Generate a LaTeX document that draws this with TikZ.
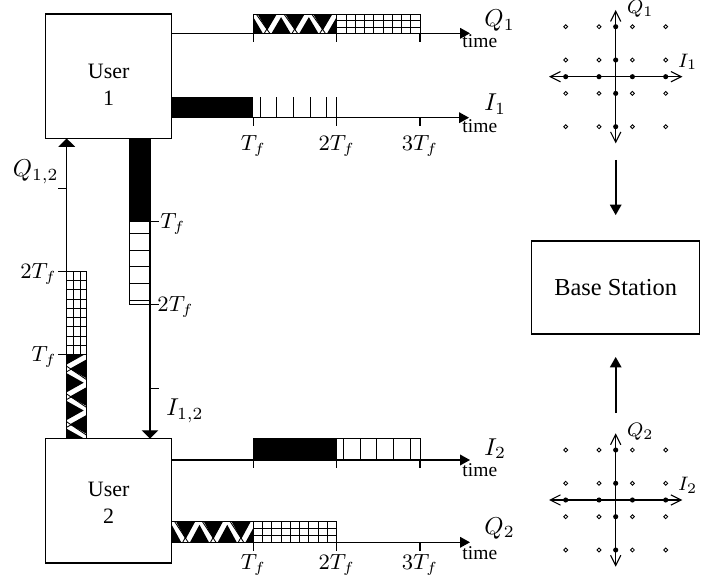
\documentclass[tikz,border=0pt]{standalone}
\usepackage{fontspec}
\setmainfont{Liberation Serif}
\usetikzlibrary{arrows.meta}
\tikzset{
  userbox/.style={draw, line width=0.6pt, minimum width=51.66pt, minimum height=51pt, inner sep=0pt, outer sep=0pt, font=\small},
  bsbox/.style={draw, line width=0.6pt, minimum width=68.9pt, minimum height=38.1pt, inner sep=0pt, outer sep=0pt},
  haxis/.style={line width=0.55pt, -{Triangle[length=4.1pt,width=4.4pt]}},
  vaxis/.style={line width=0.55pt, -{Triangle[length=3.4pt,width=6.8pt]}},
  tickmark/.style={line width=0.55pt},
  thinl/.style={line width=0.35pt},
  tlab/.style={font=\small, inner sep=1pt},
  timelab/.style={font=\footnotesize, anchor=base west, inner sep=0pt},
  axlab/.style={anchor=base west, inner sep=0pt},
  cax/.style={line width=0.45pt, {Straight Barb[length=4.2pt,width=4.2pt]}-{Straight Barb[length=4.2pt,width=4.2pt]}},
  clab/.style={font=\footnotesize, anchor=west, inner sep=0pt},
  bsarrow/.style={line width=0.9pt, -{Triangle[length=4.3pt,width=4.6pt]}},
}
% grid pattern, horizontal block: x0 x1 ytop ybot
\newcommand{\gridH}[4]{%
  \draw[thinl] (#1,#3) rectangle (#2,#4);
  \foreach \k in {1,...,8} {\draw[thinl] ({#1+\k*(#2-#1)/9},#3) -- ({#1+\k*(#2-#1)/9},#4);}
  \foreach \k in {1,2} {\draw[thinl] (#1,{#3+\k*(#4-#3)/3}) -- (#2,{#3+\k*(#4-#3)/3});}
}
% grid pattern, vertical block: x0 x1 ytop ybot
\newcommand{\gridV}[4]{%
  \draw[thinl] (#1,#3) rectangle (#2,#4);
  \foreach \k in {1,...,8} {\draw[thinl] (#1,{#3+\k*(#4-#3)/9}) -- (#2,{#3+\k*(#4-#3)/9});}
  \foreach \k in {1,2} {\draw[thinl] ({#1+\k*(#2-#1)/3},#3) -- ({#1+\k*(#2-#1)/3},#4);}
}
% zigzag pattern, horizontal block (axis at bottom): x0 x1 ytop ybot
\newcommand{\diagH}[4]{%
  \begin{scope}
    \clip (#1,#3) rectangle (#2,#4);
    \foreach \k in {0,...,3} {
      \pgfmathsetmacro{\a}{#1+\k*27.78}
      \fill ({\a-9.5},#4) -- ({\a+9.5},#4) -- (\a,{#4-0.85*(#4-#3)}) -- cycle;
      \fill ({\a+13.89-9.5},#3) -- ({\a+13.89+9.5},#3) -- ({\a+13.89},{#3+0.85*(#4-#3)}) -- cycle;
      \draw[thinl] ({\a+11},#4) -- ({\a+22.5},#3);
      \draw[thinl] ({\a+3},#3) -- ({\a+16.5},#4);
    }
  \end{scope}
  \draw[thinl] (#1,#3) rectangle (#2,#4);
}
% zigzag pattern, vertical block (axis at left): x0 x1 ytop ybot
\newcommand{\diagV}[4]{%
  \begin{scope}
    \clip (#1,#3) rectangle (#2,#4);
    \foreach \k in {0,...,3} {
      \pgfmathsetmacro{\a}{#4-\k*27.78}
      \fill (#1,{\a-9.5}) -- (#1,{\a+9.5}) -- ({#1+0.85*(#2-#1)},\a) -- cycle;
      \fill (#2,{\a-13.89-9.5}) -- (#2,{\a-13.89+9.5}) -- ({#2-0.85*(#2-#1)},{\a-13.89}) -- cycle;
      \draw[thinl] (#1,{\a-11}) -- (#2,{\a-22.5});
      \draw[thinl] (#2,{\a-3}) -- (#1,{\a-16.5});
    }
  \end{scope}
  \draw[thinl] (#1,#3) rectangle (#2,#4);
}
\begin{document}
\begin{tikzpicture}[x=0.41pt,y=-0.41pt]
\useasboundingbox (0,0) rectangle (721,582);

% ---------- boxes ----------
\node[userbox] (u1) at (108.7,76.3) {\raisebox{-4.1pt}[\height][\depth]{\begin{tabular}{@{}c@{}}User\\1\end{tabular}}};
\node[userbox] (u2) at (108.7,500.8) {\raisebox{-1.6pt}[\height][\depth]{\begin{tabular}{@{}c@{}}User\\2\end{tabular}}};
\node[bsbox] (bs) at (615.7,287.5) {Base Station};

% ---------- blocks ----------
% Q1
\diagH{253.3}{336.7}{14.3}{33.3}
\gridH{336.7}{420}{14.3}{33.3}
% I1
\fill (171.7,97.3) rectangle (253.3,117.7);
\foreach \k in {0,...,4} {\draw[thinl] ({260+\k*16.67},97.3) -- ({260+\k*16.67},117.7);}
\draw[thinl] (336.7,97.3) -- (336.7,117.7);
% I2
\fill (253.3,438.3) rectangle (336.7,460);
\draw[thinl] (336.7,460) -- (336.7,438.3) -- (420,438.3) -- (420,460);
\foreach \k in {0,...,4} {\draw[thinl] ({343.4+\k*16.67},438.3) -- ({343.4+\k*16.67},460);}
% Q2
\diagH{171.7}{253.3}{521.7}{542.3}
\gridH{253.3}{336.7}{521.7}{542.3}
% Q12
\diagV{66.7}{86.7}{354.7}{438.3}
\gridV{66.7}{86.7}{271.3}{354.7}
% I12
\fill (129,138.3) rectangle (150,221.7);
\draw[thinl] (150,221.7) -- (129,221.7) -- (129,304.3) -- (150,304.3);
\foreach \k in {0,...,4} {\draw[thinl] (129,{233.3+\k*16.67}) -- (150,{233.3+\k*16.67});}

% ---------- time axes ----------
\coordinate (q1e) at (470,33.3);
\coordinate (i1e) at (469,117.7);
\coordinate (i2e) at (470,460);
\coordinate (q2e) at (470,542.3);
\draw[haxis] (u1.east |- q1e) -- (q1e);
\draw[haxis] (u1.east |- i1e) -- (i1e);
\draw[haxis] (u2.east |- i2e) -- (i2e);
\draw[haxis] (u2.east |- q2e) -- (q2e);
\foreach \x in {253.3,336.7,420} {
  \draw[tickmark] (\x,33.3) -- (\x,42);
  \draw[tickmark] (\x,117.7) -- (\x,126);
  \draw[tickmark] (\x,460) -- (\x,468);
  \draw[tickmark] (\x,542.3) -- (\x,550.5);
}
% ---------- user-to-user axes ----------
\coordinate (q12x) at (66.7,300);
\coordinate (i12x) at (150,300);
\draw[vaxis] (u2.north -| q12x) -- (u1.south -| q12x);
\draw[vaxis] (u1.south -| i12x) -- (u2.north -| i12x);
\foreach \y in {188.3,271.3,354.7} {\draw[tickmark] (58,\y) -- (66.7,\y);}
\foreach \y in {221.7,304.3,388.3} {\draw[tickmark] (150,\y) -- (158.5,\y);}

% ---------- labels ----------
\node[axlab] (lq1) at (484,27) {$Q_1$};
\node[axlab] (li1) at (484,111) {$I_1$};
\node[axlab] (li2) at (484,455) {$I_2$};
\node[axlab] (lq2) at (484,534) {$Q_2$};
\node[timelab] (tm1) at (462,48) {time};
\node[timelab] (tm2) at (462,132.5) {time};
\node[timelab] (tm3) at (462,476) {time};
\node[timelab] (tm4) at (462,559) {time};
\node[tlab, anchor=north] (a1) at (253.3,132.5) {$T_f$};
\node[tlab, anchor=north] (a2) at (336.7,132.5) {$2T_f$};
\node[tlab, anchor=north] (a3) at (420,132.5) {$3T_f$};
\node[tlab, anchor=north] (b1) at (253.3,552) {$T_f$};
\node[tlab, anchor=north] (b2) at (336.7,552) {$2T_f$};
\node[tlab, anchor=north] (b3) at (420,552) {$3T_f$};
\node[anchor=base east, inner sep=0pt] (lq12) at (59,177) {$Q_{1,2}$};
\node[tlab, anchor=east, inner sep=0pt] (c2) at (57,274) {$2T_f$};
\node[tlab, anchor=east, inner sep=0pt] (c1) at (57,357) {$T_f$};
\node[tlab, anchor=west, inner sep=0pt] (d1) at (160,224) {$T_f$};
\node[tlab, anchor=west, inner sep=0pt] (d2) at (157,307) {$2T_f$};
\node[anchor=west, inner sep=0pt] (li12) at (166,411) {$I_{1,2}$};

% ---------- constellations ----------
\foreach \cy/\n in {76.7/1, 500/2} {
\begin{scope}[shift={(615.7,\cy)}]
  \draw[cax] (-66.7,0) -- (66.7,0);
  \draw[cax] (0,66.7) -- (0,-66.7);
  \foreach \p in {-50,-16.7,16.7,50} {
    \fill (\p,0) circle (1.05pt);
    \fill (0,\p) circle (1.05pt);
    \foreach \q in {-50,-16.7,16.7,50} {\draw[line width=0.35pt] (\p,\q) circle (0.8pt);}
  }
  \node[clab] at (11,-68) {$Q_\n$};
  \node[clab] at (62,-15) {$I_\n$};
\end{scope}
}
\coordinate (c1s) at (615.7,160);
\coordinate (c2s) at (615.7,413);
\draw[bsarrow, shorten >=10.6pt] (c1s) -- (bs.north);
\draw[bsarrow, shorten >=9.4pt] (c2s) -- (bs.south);
\end{tikzpicture}
\end{document}
